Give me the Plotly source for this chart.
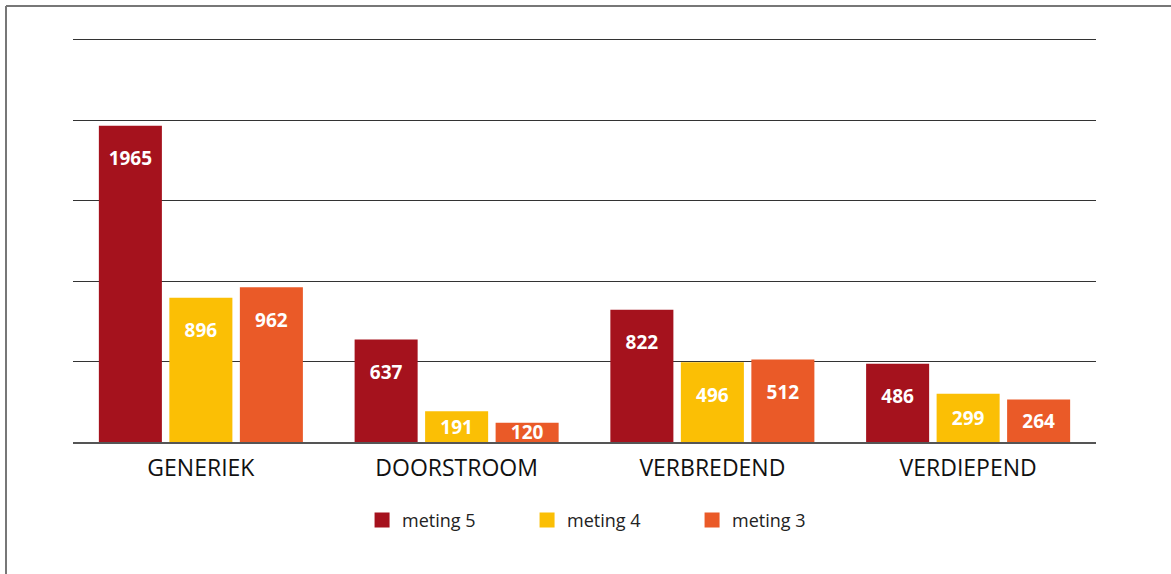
import plotly.graph_objects as go

categories = ["GENERIEK", "DOORSTROOM", "VERBREDEND", "VERDIEPEND"]
series_names = ["meting 5", "meting 4", "meting 3"]
meting5 = [1965, 637, 822, 486]
meting4 = [896, 191, 496, 299]
meting3 = [962, 120, 512, 264]
series_values = [meting5, meting4, meting3]
colors = ["#A5121D", "#FBBF05", "#EA5A28"]
grid_ticks = [500, 1000, 1500, 2000, 2500]
TALL = 400  # labels of taller bars sit near the top, short bars centred

FONT = "Open Sans"
SPACER = "<span style='font-size:11px'>\u00a0</span><br>"

fig = go.Figure()
for i, (name, vals, col) in enumerate(zip(series_names, series_values, colors)):
    tall = [v if v >= TALL else None for v in vals]
    short = [v if v < TALL else None for v in vals]
    common = dict(
        x=categories, name=name, offsetgroup=str(i),
        marker=dict(color=col, line=dict(width=0)),
        textposition="inside", constraintext="none", textangle=0,
        textfont=dict(family=FONT, size=19, color="white", weight="bold"),
        showlegend=False, hoverinfo="skip",
    )
    fig.add_trace(go.Bar(
        y=tall, text=[SPACER + str(v) if v is not None else "" for v in tall],
        insidetextanchor="end", **common))
    fig.add_trace(go.Bar(
        y=short, text=[str(v) if v is not None else "" for v in short],
        insidetextanchor="middle", **common))

for name, col in zip(series_names, colors):
    fig.add_trace(go.Scatter(
        x=[None], y=[None], mode="markers", name=name,
        marker=dict(symbol="square", size=15, color=col),
        showlegend=True, hoverinfo="skip",
    ))

fig.update_layout(
    width=1171, height=574,
    margin=dict(l=73, r=75, t=38, b=132),
    paper_bgcolor="white", plot_bgcolor="white",
    barmode="group", bargap=0.173, bargroupgap=0.106,
    font=dict(family=FONT, color="#111"),
    xaxis=dict(
        showline=True, linecolor="#555", linewidth=2,
        showgrid=False, ticks="", ticklabelstandoff=4,
        tickfont=dict(family=FONT, size=23, color="#111"),
    ),
    yaxis=dict(
        range=[0, 2510], tickvals=grid_ticks, showticklabels=False,
        showgrid=True, gridcolor="#333", gridwidth=1, zeroline=False,
        fixedrange=True,
    ),
    legend=dict(
        orientation="h", x=0.5245, xanchor="center", y=-0.148, yanchor="top",
        entrywidth=120, font=dict(family=FONT, size=18, color="#222"),
    ),
    shapes=[
        dict(type="line", xref="paper", yref="paper",
             x0=(6 - 73) / 1023, x1=(1171 - 73) / 1023,
             y0=(442 - 6) / 404, y1=(442 - 6) / 404,
             line=dict(color="#777", width=2)),
        dict(type="line", xref="paper", yref="paper",
             x0=(6 - 73) / 1023, x1=(6 - 73) / 1023,
             y0=(442 - 6) / 404, y1=(442 - 574) / 404,
             line=dict(color="#777", width=2)),
    ],
)

fig.write_html("out.html", config={"displayModeBar": False},
               post_script="document.body.style.margin='0';")
